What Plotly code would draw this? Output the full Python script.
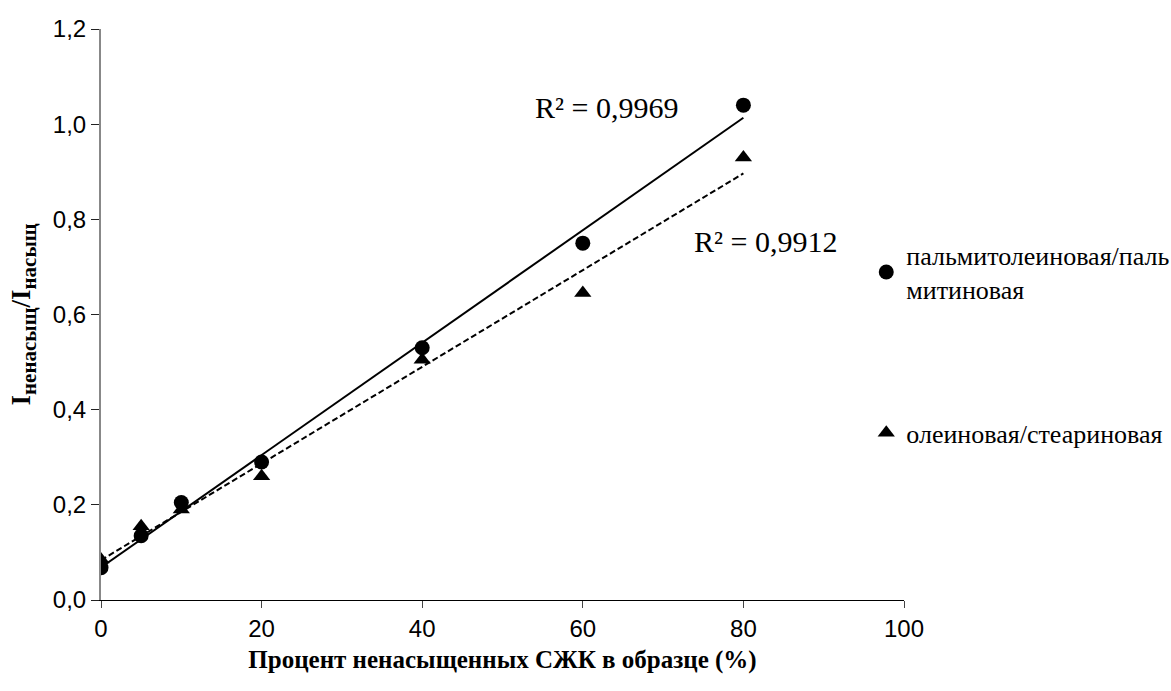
import numpy as np
import plotly.graph_objects as go

# Доля ненасыщенных СЖК в образце, %
percent = [0, 5, 10, 20, 40, 60, 80]
# Отношение интенсивностей I_ненасыщ / I_насыщ
palmitoleic = [0.068, 0.135, 0.205, 0.29, 0.53, 0.75, 1.04]
oleic = [0.085, 0.155, 0.19, 0.26, 0.505, 0.645, 0.93]

names = ["пальмитолеиновая/паль<br>митиновая", "олеиновая/стеариновая"]
r2_labels = ["R² = 0,9969", "R² = 0,9912"]
x_ticks = [0, 20, 40, 60, 80, 100]
y_ticks = [0.0, 0.2, 0.4, 0.6, 0.8, 1.0, 1.2]

serif = "Liberation Serif"
sans = "Liberation Sans"

fig = go.Figure()

# линейные тренды по МНК
x_arr = np.array(percent, dtype=float)
fit_x = np.array([min(percent), max(percent)], dtype=float)
for ys, dash in [(palmitoleic, "solid"), (oleic, "6px,3px")]:
    k, b = np.polyfit(x_arr, np.array(ys), 1)
    fig.add_trace(go.Scatter(
        x=fit_x, y=k * fit_x + b, mode="lines",
        line=dict(color="black", width=2, dash=dash),
        showlegend=False, hoverinfo="skip"))

fig.add_trace(go.Scatter(
    x=percent, y=palmitoleic, mode="markers", name=names[0],
    marker=dict(symbol="circle", size=15, color="black"),
    legendgroup="a"))
fig.add_trace(go.Scatter(
    x=percent, y=oleic, mode="markers", name=names[1],
    marker=dict(symbol="triangle-up", size=15, color="black"),
    legendgroup="b"))

fig.add_annotation(x=62.9, y=1.035, text=r2_labels[0], showarrow=False,
                   font=dict(family=serif, size=30, color="black"))
fig.add_annotation(x=82.8, y=0.754, text=r2_labels[1], showarrow=False,
                   font=dict(family=serif, size=30, color="black"))

sub = "<sub><span style='font-size:21px'>{}</span></sub>"
y_title = "<b>I" + sub.format("ненасыщ") + "/I" + sub.format("насыщ") + "</b>"

fig.update_layout(
    width=1171, height=691,
    margin=dict(l=101, r=267, t=29, b=91, autoexpand=False),
    paper_bgcolor="white", plot_bgcolor="white",
    separators=", ",
    showlegend=True,
    legend=dict(x=0.953, xanchor="left", y=0.645, yanchor="top",
                font=dict(family=serif, size=26, color="black"),
                tracegroupgap=107, itemwidth=30, bgcolor="rgba(0,0,0,0)"),
    xaxis=dict(range=[0, 100], tickvals=x_ticks, showgrid=False, zeroline=False,
               showline=True, linecolor="black", linewidth=1,
               ticks="outside", ticklen=7, tickcolor="#444",
               tickfont=dict(family=sans, size=24, color="black"),
               title=dict(text="<b>Процент ненасыщенных СЖК в образце (%)</b>",
                          font=dict(family=serif, size=25, color="black"),
                          standoff=9)),
    yaxis=dict(range=[0, 1.2], tickvals=y_ticks, tickformat=".1f",
               showgrid=False, zeroline=False,
               showline=True, linecolor="#888", linewidth=2,
               ticks="outside", ticklen=8, tickcolor="#222",
               tickfont=dict(family=sans, size=24, color="black"),
               title=dict(text=y_title,
                          font=dict(family=serif, size=27, color="black"),
                          standoff=14)),
)

fig.write_html("out.html")
